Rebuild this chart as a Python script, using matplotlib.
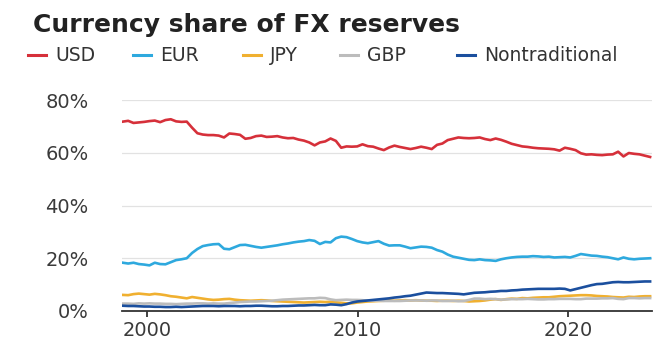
import numpy as np
import matplotlib
matplotlib.use("Agg")
import matplotlib.pyplot as plt
from matplotlib.lines import Line2D

# Quarterly currency shares of FX reserves (%), 1999Q1 .. 2023Q4
usd = [
    71.8, 72.1, 71.3, 71.5,  71.7, 72.0, 72.2, 71.6,  72.4, 72.7, 71.9, 71.7,
    71.8, 69.5, 67.4, 66.9,  66.7, 66.7, 66.5, 65.8,  67.3, 67.1, 66.8, 65.3,
    65.6, 66.3, 66.5, 66.0,  66.1, 66.3, 65.8, 65.5,  65.6, 65.0, 64.6, 63.9,
    62.8, 63.9, 64.3, 65.4,  64.5, 61.9, 62.4, 62.3,  62.4, 63.2, 62.5, 62.3,
    61.6, 61.0, 62.0, 62.7,  62.2, 61.8, 61.4, 61.8,  62.3, 61.9, 61.4, 63.0,
    63.5, 64.8, 65.3, 65.8,  65.6, 65.5, 65.6, 65.8,  65.2, 64.8, 65.4, 64.9,
    64.2, 63.4, 62.9, 62.4,  62.2, 61.9, 61.7, 61.6,  61.5, 61.3, 60.8, 61.9,
    61.5, 61.0, 59.8, 59.3,  59.4, 59.2, 59.1, 59.3,  59.4, 60.4, 58.6, 59.9,
    59.6, 59.4, 58.9, 58.4,
]
eur = [
    18.3, 18.0, 18.3, 17.8,  17.6, 17.3, 18.3, 17.8,  17.7, 18.5, 19.3, 19.6,
    20.0, 22.0, 23.5, 24.6,  25.0, 25.3, 25.4, 23.6,  23.4, 24.2, 25.0, 25.1,
    24.7, 24.3, 24.0, 24.3,  24.6, 24.9, 25.3, 25.6,  26.0, 26.3, 26.5, 26.9,
    26.6, 25.4, 26.2, 26.0,  27.6, 28.2, 28.0, 27.3,  26.5, 26.0, 25.7, 26.1,
    26.5, 25.5, 24.8, 24.9,  24.9, 24.4, 23.8, 24.1,  24.4, 24.3, 24.0, 23.1,
    22.5, 21.4, 20.6, 20.2,  19.8, 19.4, 19.3, 19.6,  19.3, 19.2, 19.0, 19.6,
    20.0, 20.3, 20.5, 20.6,  20.6, 20.8, 20.7, 20.5,  20.6, 20.3, 20.4, 20.5,
    20.3, 20.9, 21.6, 21.3,  21.0, 20.9, 20.6, 20.4,  20.0, 19.6, 20.3, 19.8,
    19.6, 19.8, 19.9, 20.0,
]
jpy = [
    6.1, 6.0, 6.4, 6.6,  6.4, 6.2, 6.5, 6.3,  6.0, 5.6, 5.4, 5.1,
    4.8, 5.3, 5.0, 4.7,  4.4, 4.2, 4.3, 4.5,  4.6, 4.3, 4.1, 4.0,
    3.9, 4.0, 4.1, 4.0,  3.8, 3.7, 3.6, 3.5,  3.4, 3.3, 3.2, 3.3,
    3.4, 3.5, 3.4, 3.5,  3.3, 3.1, 2.9, 2.9,  3.2, 3.4, 3.6, 3.7,
    3.8, 3.9, 4.0, 3.9,  4.0, 4.1, 4.0, 4.1,  4.0, 3.9, 3.9, 3.8,
    3.9, 3.9, 3.8, 3.9,  3.8, 3.6, 3.7, 3.8,  4.0, 4.3, 4.5, 4.2,
    4.5, 4.7, 4.6, 4.9,  4.8, 5.0, 5.1, 5.2,  5.2, 5.4, 5.6, 5.7,
    5.8, 5.9, 6.0, 6.0,  5.9, 5.7, 5.6, 5.5,  5.3, 5.2, 5.1, 5.4,
    5.3, 5.5, 5.6, 5.6,
]
gbp = [
    2.8, 2.8, 2.7, 2.9,  2.8, 2.9, 2.8, 2.8,  2.7, 2.7, 2.6, 2.7,
    2.8, 2.8, 2.9, 2.9,  2.8, 2.9, 2.8, 2.8,  3.0, 3.2, 3.4, 3.5,
    3.6, 3.6, 3.7, 3.8,  3.9, 4.1, 4.3, 4.4,  4.5, 4.6, 4.7, 4.8,
    4.8, 5.0, 4.9, 4.4,  4.1, 4.2, 4.3, 4.2,  4.2, 4.1, 3.9, 3.9,
    3.9, 3.8, 3.8, 3.8,  3.8, 3.9, 4.0, 4.0,  4.0, 3.9, 4.0, 4.0,
    3.8, 3.8, 3.9, 3.7,  3.8, 4.2, 4.7, 4.7,  4.5, 4.6, 4.5, 4.3,
    4.4, 4.5, 4.5, 4.5,  4.6, 4.5, 4.4, 4.4,  4.5, 4.5, 4.6, 4.6,
    4.6, 4.5, 4.5, 4.7,  4.7, 4.7, 4.8, 4.8,  4.9, 4.6, 4.5, 4.9,
    4.9, 4.8, 4.9, 4.9,
]
nontrad = [
    2.0, 1.9, 1.9, 1.8,  1.7, 1.7, 1.6, 1.6,  1.5, 1.5, 1.6, 1.5,
    1.6, 1.7, 1.8, 1.9,  1.9, 1.9, 1.8, 1.9,  1.9, 1.9, 1.8, 1.9,
    1.9, 2.0, 2.0, 1.9,  1.8, 1.8, 1.9, 1.9,  2.0, 2.1, 2.1, 2.2,
    2.3, 2.2, 2.2, 2.5,  2.4, 2.2, 2.6, 3.2,  3.6, 3.8, 4.0, 4.2,
    4.4, 4.6, 4.8, 5.1,  5.3, 5.6, 5.8, 6.2,  6.6, 7.0, 6.9, 6.8,
    6.8, 6.7, 6.6, 6.5,  6.3, 6.6, 6.9, 7.0,  7.1, 7.3, 7.4, 7.6,
    7.6, 7.8, 7.9, 8.1,  8.2, 8.3, 8.4, 8.4,  8.4, 8.4, 8.5, 8.4,
    7.8, 8.3, 8.8, 9.3,  9.8, 10.2, 10.3, 10.6,  10.9, 11.0, 10.9, 10.9,
    11.0, 11.1, 11.2, 11.2,
]

series_names = ["USD", "EUR", "JPY", "GBP", "Nontraditional"]
series_values = [usd, eur, jpy, gbp, nontrad]
colors = ["#d6303a", "#2ea9de", "#f0b030", "#bcbcbc", "#1b4f9e"]

years = np.linspace(1998.85, 2023.9, len(usd))
x_ticks = [2000, 2010, 2020]
y_ticks = [0, 20, 40, 60, 80]

fig = plt.figure(figsize=(6.69, 3.5), dpi=100)
ax = fig.add_axes([122 / 669, 1 - 311 / 350, 530 / 669, 211 / 350])

for vals, c in zip(series_values, colors):
    ax.plot(years, vals, color=c, lw=1.9, solid_joinstyle="round", zorder=3)

ax.set_xlim(1998.81, 2023.99)
ax.set_ylim(0, 80)
ax.set_xticks(x_ticks)
ax.set_yticks(y_ticks)
ax.set_yticklabels([f"{v}%" for v in y_ticks])

for s in ["top", "right", "left"]:
    ax.spines[s].set_visible(False)
ax.spines["bottom"].set_color("#333333")
ax.spines["bottom"].set_linewidth(1.3)
ax.spines["bottom"].set_zorder(4)

ax.grid(axis="y", color="#e2e2e2", lw=0.9, zorder=1)
ax.tick_params(axis="y", length=0, pad=24, labelsize=14, labelcolor="#3a3a3a")
ax.tick_params(axis="x", length=4, width=1.3, color="#333333", pad=3.5,
               labelsize=14, labelcolor="#3a3a3a")

fig.text(33 / 669, 1 - 32 / 350, "Currency share of FX reserves",
         fontsize=18, fontweight="bold", color="#222222", va="baseline")

# legend row, laid out like the source
leg_x = [28, 133, 243, 340, 457]
for name, c, lx in zip(series_names, colors, leg_x):
    fig.add_artist(Line2D([lx / 669, (lx + 18) / 669], [1 - 55 / 350] * 2,
                          color=c, lw=2.2, transform=fig.transFigure))
    fig.text((lx + 27) / 669, 1 - 61 / 350, name, fontsize=13.5,
             color="#333333", va="baseline")

fig.savefig("out.png", dpi=100)
